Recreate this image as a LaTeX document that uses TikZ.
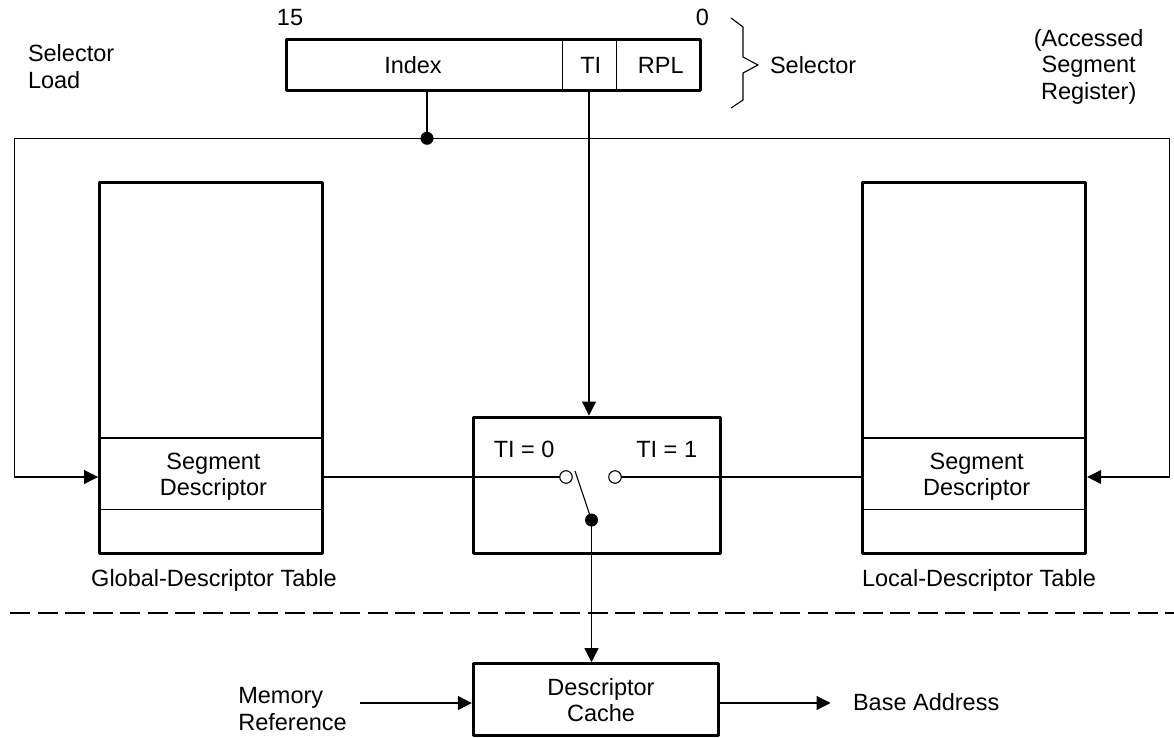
\documentclass[tikz,border=0pt]{standalone}
\usepackage{fontspec}
\setmainfont{Liberation Sans}
\usetikzlibrary{arrows.meta}
\begin{document}
\begin{tikzpicture}[x=1pt,y=-1pt,
  lbl/.style={font=\fontsize{23.5}{26.5}\selectfont, inner sep=0pt, outer sep=0pt, align=center},
  wire/.style={line width=1.1pt},
  frame/.style={draw, line width=3pt, rectangle, inner sep=0pt, outer sep=0pt, line join=round},
  row/.style={draw, line width=1.1pt, rectangle, inner sep=0pt, outer sep=0pt},
  arr/.style={wire, shorten >=1.5pt, -{Triangle[length=14pt,width=14pt]}},
  solder/.style={circle, fill=black, inner sep=0pt, outer sep=0pt, minimum size=13pt},
  contact/.style={circle, draw, fill=white, line width=1.1pt, inner sep=0pt, outer sep=0pt, minimum size=12.5pt},
]
\useasboundingbox (0,0) rectangle (1174,738);

% selector register with its three fields
\node[frame, minimum width=414pt, minimum height=51pt] (sel) at (493.5,65) {};
\coordinate (d1) at (562.7,65);
\coordinate (d2) at (616.7,65);
\draw[wire] (d1 |- sel.north) -- (d1 |- sel.south);
\draw[wire] (d2 |- sel.north) -- (d2 |- sel.south);
\node[lbl, anchor=base] (idx) at (413,74) {Index};
\node[lbl, anchor=base] (ti) at (590.8,74) {TI};
\node[lbl, anchor=base] (rpl) at (660.8,74) {RPL};
\node[lbl, anchor=base] (hi) at (290,26) {15};
\node[lbl, anchor=base] (lo) at (702.5,26) {0};
\draw[wire, line join=miter] (731,18) -- (743,27) -- (743,57) -- (758,65) -- (743,73) -- (743,100) -- (731,108);
\node[lbl, anchor=base west] (selname) at (770,74) {Selector};
% multi-line labels are placed by the baseline of their last line
\node[lbl, anchor=base west, align=left] (selload) at (28,88.3) {Selector\\Load};
\node[lbl, anchor=base] (asr) at (1088.7,99.3) {(Accessed\\Segment\\Register)};

% descriptor tables
\node[row, minimum width=223pt, minimum height=71.5pt] (gseg) at (211,473.75) {};
\node[frame, minimum width=223pt, minimum height=370.6pt] (gdt) at (211,368) {};
\node[lbl, anchor=base] (gsegt) at (213.5,495.5) {Segment\\Descriptor};
\node[lbl, anchor=base] (gname) at (214,586.7) {Global-Descriptor Table};
\node[row, minimum width=223.4pt, minimum height=71.5pt] (lseg) at (974,473.75) {};
\node[frame, minimum width=223.4pt, minimum height=370.6pt] (ldt) at (974,368) {};
\node[lbl, anchor=base] (lsegt) at (976.7,495.5) {Segment\\Descriptor};
\node[lbl, anchor=base] (lname) at (979,586.7) {Local-Descriptor Table};

% table-select switch
\node[frame, minimum width=246.7pt, minimum height=136.3pt] (sw) at (596.7,485.2) {};
\node[lbl, anchor=base] (t0) at (524.2,457.3) {TI = 0};
\node[lbl, anchor=base] (t1) at (666.7,457.3) {TI = 1};
\node[contact] (c0) at (566,477) {};
\node[contact] (c1) at (615,477) {};
\node[solder] (pivot) at (591.5,520) {};
\coordinate (armtip) at (575,471);
\draw[wire] (armtip) -- (pivot.center);

% descriptor cache
\node[frame, minimum width=245pt, minimum height=71.6pt] (cache) at (595.8,699.5) {};
\node[lbl, anchor=base] (cachet) at (601,721.7) {Descriptor\\Cache};
\node[lbl, anchor=base west, align=left] (memref) at (238.3,730) {Memory\\Reference};
\node[lbl, anchor=base west] (base) at (853,710.7) {Base Address};
\coordinate (memfrom) at (360,703);
\coordinate (baseto) at (832,703);

% index bus to both tables
\node[solder] (tap) at (427,138.3) {};
\coordinate (busL) at (14.3,138.3);
\coordinate (busR) at (1169.5,138.3);
\draw[wire] (tap |- sel.south) -- (tap.center);
\draw[wire] (busL) -- (busR);
\draw[arr] (busL) |- (gdt.west |- c0);
\draw[arr] (busR) |- (ldt.east |- c1);

% TI bit drives the switch
\coordinate (tix) at (589,0);
\draw[arr] (tix |- sel.south) -- (tix |- sw.north);
\draw[wire] (gdt.east |- c0) -- (c0.west);
\draw[wire] (c1.east) -- (ldt.west |- c1);
\draw[arr] (pivot.center) -- (pivot |- cache.north);

\draw[arr] (memfrom) -- (memfrom -| cache.west);
\draw[arr] (cache.east |- baseto) -- (baseto);

% boundary between tables in memory and the on-chip cache
\coordinate (sepL) at (10,613);
\coordinate (sepR) at (1174,613);
\draw[wire, dash pattern=on 20pt off 7.5pt] (sepL) -- (sepR);
\end{tikzpicture}
\end{document}
